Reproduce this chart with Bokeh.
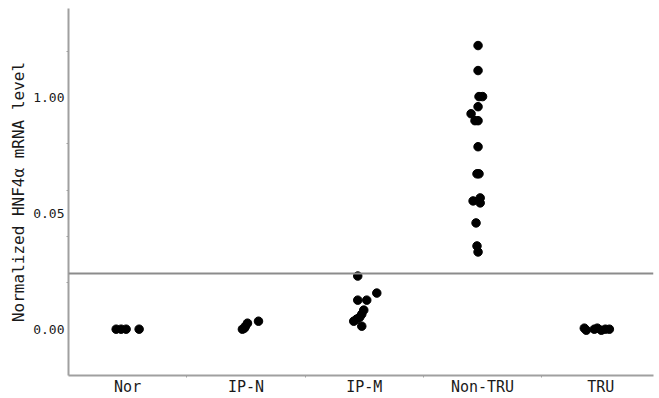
from bokeh.plotting import figure
from bokeh.models import FixedTicker, Span, ColumnDataSource
from bokeh.embed import file_html
from bokeh.resources import INLINE

# Categories and per-point values (y in the chart's axis units: 0 -> "0.00", 1 -> "0.05", 2 -> "1.00")
categories = ["Nor", "IP-N", "IP-M", "Non-TRU", "TRU"]
tick_values = [0, 1, 2]
tick_labels = ["0.00", "0.05", "1.00"]
minor_y = [0.4, 0.8, 1.2, 1.6, 2.4]
threshold = 0.48

nor_y = [0.0, 0.0, 0.0, 0.0]
nor_dx = [-0.097, -0.055, -0.013, 0.097]
ipn_y = [0.0, 0.009, 0.026, 0.052, 0.069]
ipn_dx = [-0.03, -0.013, -0.004, 0.013, 0.106]
ipm_y = [0.459, 0.251, 0.251, 0.312, 0.165, 0.130, 0.087, 0.069, 0.104, 0.026]
ipm_dx = [-0.055, -0.055, 0.021, 0.106, -0.004, -0.021, -0.064, -0.089, -0.038, -0.021]
nontru_y = [2.45, 2.234, 2.009, 2.009, 1.922, 1.861, 1.801, 1.801, 1.576, 1.342, 1.342,
            1.134, 1.108, 1.091, 0.918, 0.719, 0.667]
nontru_dx = [-0.038, -0.038, 0.0, -0.03, -0.038, -0.097, -0.064, -0.038, -0.038, -0.047, -0.03,
             -0.02, -0.08, -0.02, -0.055, -0.047, -0.038]
tru_y = [0.009, -0.009, 0.0, 0.009, -0.009, 0.0, 0.0]
tru_dx = [-0.14, -0.123, -0.055, -0.03, 0.004, 0.038, 0.072]

groups = [(nor_y, nor_dx), (ipn_y, ipn_dx), (ipm_y, ipm_dx), (nontru_y, nontru_dx), (tru_y, tru_dx)]
xs, ys = [], []
for i, (gy, gdx) in enumerate(groups):
    for yv, dx in zip(gy, gdx):
        xs.append(i + 0.5 + dx)
        ys.append(yv)
src = ColumnDataSource(dict(x=xs, y=ys))

FONT = "DejaVu Sans Mono"
AXIS_COLOR = "#a0a0a0"

p = figure(width=659, height=398, output_backend="svg", toolbar_location=None,
           x_range=(0, 4.945), y_range=(-0.4, 2.77),
           min_border_left=68, min_border_right=6, min_border_top=8, min_border_bottom=10)
p.outline_line_color = None
p.xgrid.grid_line_color = None
p.ygrid.grid_line_color = None
p.background_fill_color = "white"

p.add_layout(Span(location=threshold, dimension="width", line_color="#8c8c8c", line_width=2))

p.scatter("x", "y", source=src, size=8.5, color="black")

centers = [i + 0.5 for i in range(len(categories))]
p.xaxis.ticker = FixedTicker(ticks=centers, minor_ticks=list(range(1, len(categories))))
p.xaxis.major_label_overrides = {c: lab for c, lab in zip(centers, categories)}
p.yaxis.ticker = FixedTicker(ticks=tick_values, minor_ticks=minor_y)
p.yaxis.major_label_overrides = {v: lab for v, lab in zip(tick_values, tick_labels)}
p.yaxis.axis_label = "Normalized HNF4\u03b1 mRNA level"

for ax in (p.xaxis[0], p.yaxis[0]):
    ax.axis_line_color = AXIS_COLOR
    ax.axis_line_width = 2
    ax.major_tick_out = 0
    ax.major_tick_in = 0
    ax.minor_tick_out = 2
    ax.minor_tick_in = 0
    ax.minor_tick_line_color = AXIS_COLOR
    ax.major_label_text_font = FONT
    ax.major_label_text_color = "#1a1a1a"
    ax.axis_label_text_font = FONT
    ax.axis_label_text_font_style = "normal"
    ax.axis_label_text_color = "#1a1a1a"

p.xaxis.major_label_text_font_size = "15px"
p.xaxis.major_label_standoff = 0
p.yaxis.major_label_text_font_size = "13px"
p.yaxis.major_label_standoff = 2
p.yaxis.axis_label_text_font_size = "16px"
p.yaxis.axis_label_standoff = 2

open("out.html", "w").write(file_html(p, INLINE))
